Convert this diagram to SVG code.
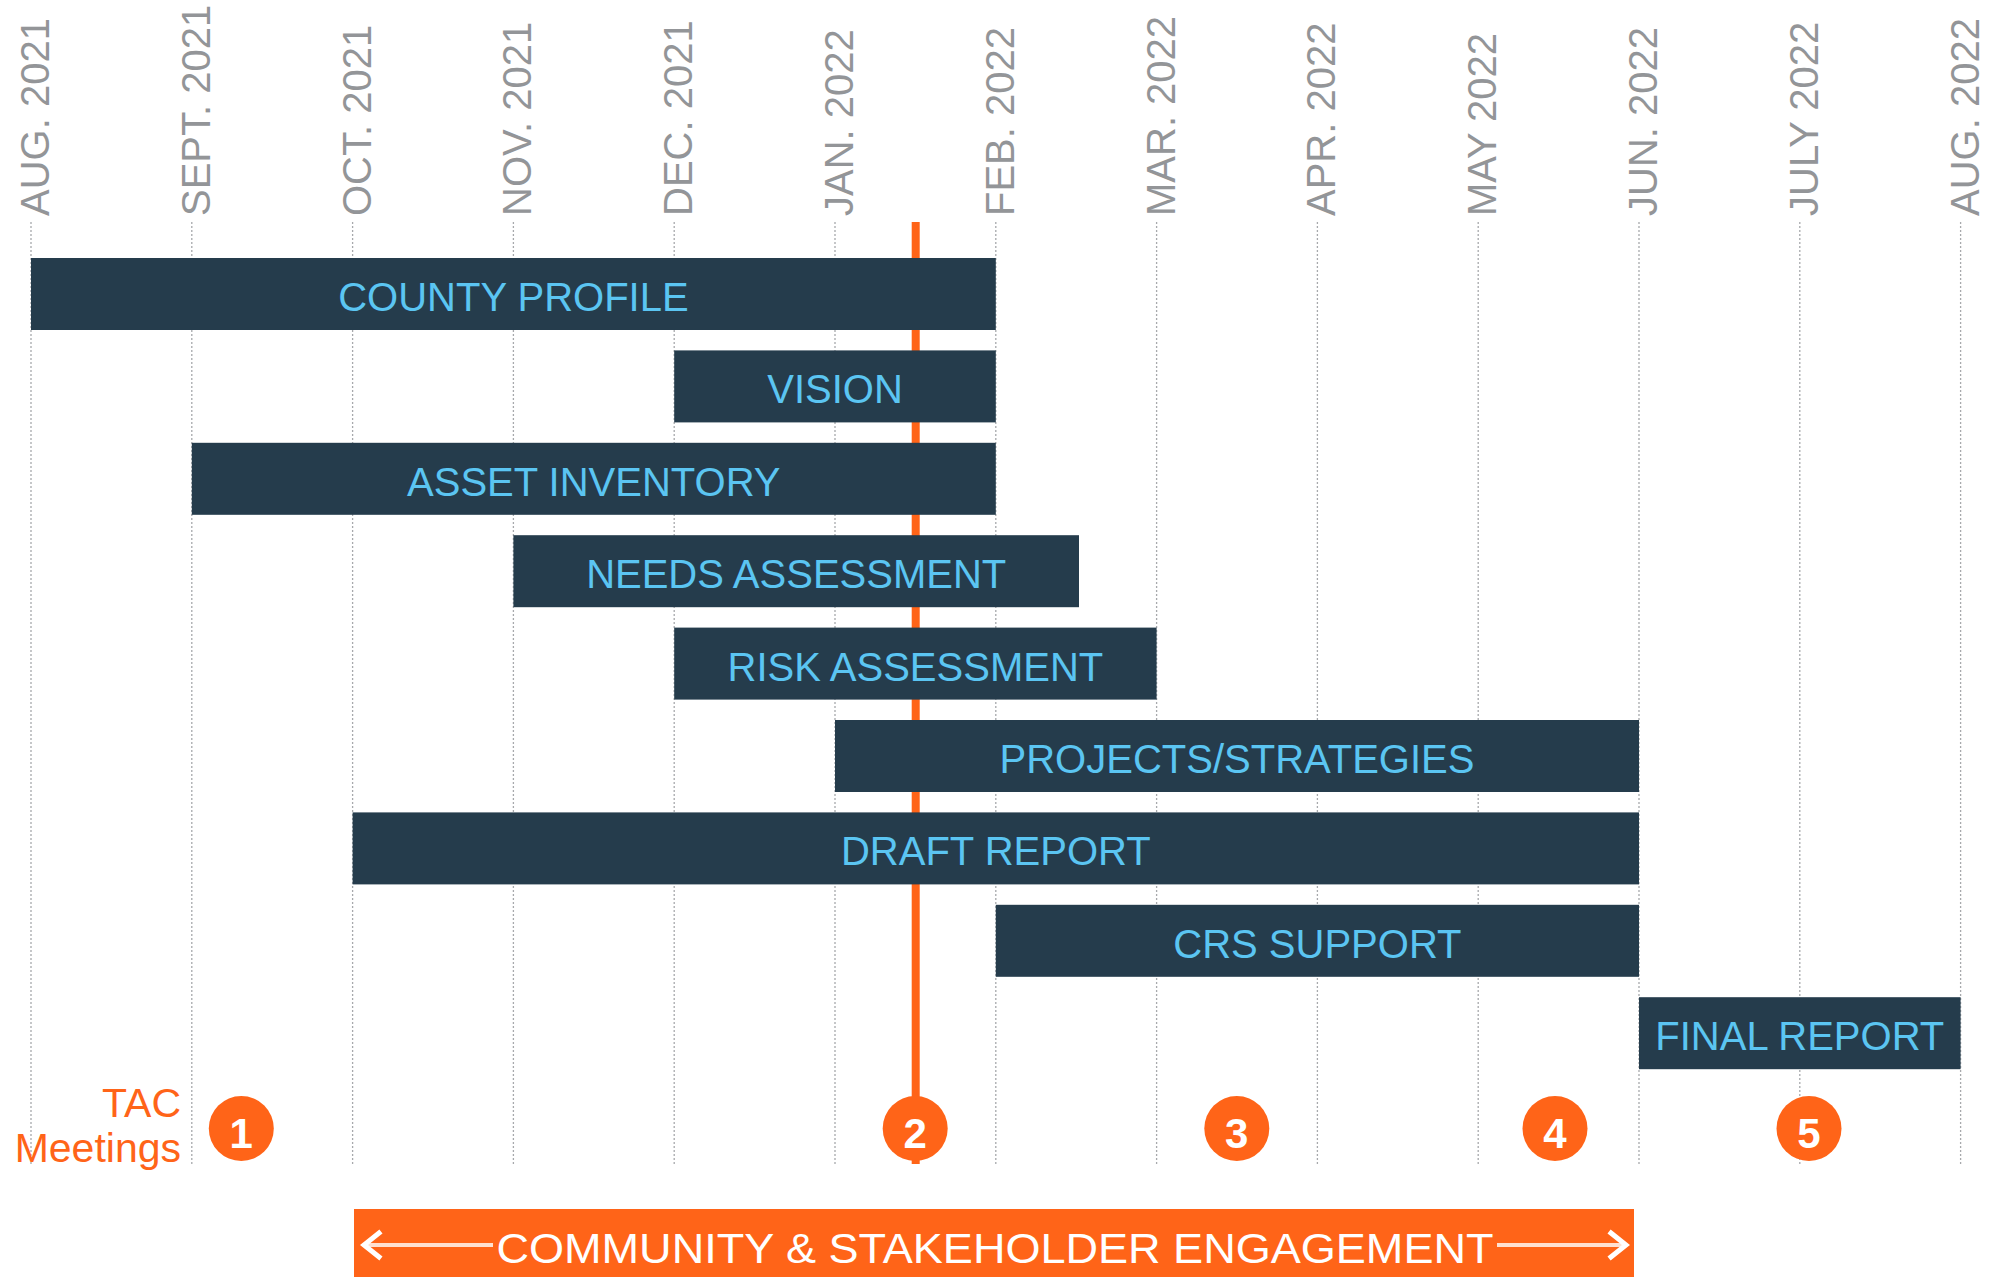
<svg xmlns="http://www.w3.org/2000/svg" width="1994" height="1277" viewBox="0 0 1994 1277">
<style>
.grid{stroke:#a7a9ac;stroke-width:1.3;stroke-dasharray:2 2;fill:none}
.mon{font-family:"Liberation Sans",Arial,sans-serif;font-size:40px;fill:#939598}
.bar{fill:#253c4c}
.lbl{font-family:"Liberation Sans",Arial,sans-serif;font-size:40px;fill:#5bc5f2;text-anchor:middle}
.tac{fill:#ff6418}
.num{font-family:"Liberation Sans",Arial,sans-serif;font-size:42px;font-weight:bold;fill:#ffffff;text-anchor:middle}
.otxt{font-family:"Liberation Sans",Arial,sans-serif;font-size:41px;fill:#ff6418;text-anchor:end}
.chev{fill:none;stroke:#ffffff;stroke-width:5;stroke-linecap:square}
.aline{stroke:#ffffff;stroke-opacity:0.8;stroke-width:4}
</style>
<rect width="1994" height="1277" fill="#ffffff"/>
<g id="axis">
<line class="grid" x1="31" y1="222" x2="31" y2="1164"/>
<line class="grid" x1="191.8" y1="222" x2="191.8" y2="1164"/>
<line class="grid" x1="352.6" y1="222" x2="352.6" y2="1164"/>
<line class="grid" x1="513.4" y1="222" x2="513.4" y2="1164"/>
<line class="grid" x1="674.2" y1="222" x2="674.2" y2="1164"/>
<line class="grid" x1="835" y1="222" x2="835" y2="1164"/>
<line class="grid" x1="995.8" y1="222" x2="995.8" y2="1164"/>
<line class="grid" x1="1156.6" y1="222" x2="1156.6" y2="1164"/>
<line class="grid" x1="1317.4" y1="222" x2="1317.4" y2="1164"/>
<line class="grid" x1="1478.2" y1="222" x2="1478.2" y2="1164"/>
<line class="grid" x1="1639" y1="222" x2="1639" y2="1164"/>
<line class="grid" x1="1799.8" y1="222" x2="1799.8" y2="1164"/>
<line class="grid" x1="1960.6" y1="222" x2="1960.6" y2="1164"/>
<text class="mon" transform="translate(49,216) rotate(-90)">AUG. 2021</text>
<text class="mon" transform="translate(209.8,216) rotate(-90)">SEPT. 2021</text>
<text class="mon" transform="translate(370.6,216) rotate(-90)">OCT. 2021</text>
<text class="mon" transform="translate(531.4,216) rotate(-90)">NOV. 2021</text>
<text class="mon" transform="translate(692.2,216) rotate(-90)">DEC. 2021</text>
<text class="mon" transform="translate(853,216) rotate(-90)">JAN. 2022</text>
<text class="mon" transform="translate(1013.8,216) rotate(-90)">FEB. 2022</text>
<text class="mon" transform="translate(1174.6,216) rotate(-90)">MAR. 2022</text>
<text class="mon" transform="translate(1335.4,216) rotate(-90)">APR. 2022</text>
<text class="mon" transform="translate(1496.2,216) rotate(-90)">MAY 2022</text>
<text class="mon" transform="translate(1657,216) rotate(-90)">JUN. 2022</text>
<text class="mon" transform="translate(1817.8,216) rotate(-90)">JULY 2022</text>
<text class="mon" transform="translate(1978.6,216) rotate(-90)">AUG. 2022</text>
</g>
<g id="today-line">
<line x1="915.7" y1="222" x2="915.7" y2="1164" stroke="#ff6418" stroke-width="8"/>
</g>
<g id="county-profile"><rect class="bar" x="31" y="258" width="964.8" height="72"/><text class="lbl" x="513.4" y="311">COUNTY PROFILE</text></g>
<g id="vision"><rect class="bar" x="674.2" y="350.4" width="321.6" height="72"/><text class="lbl" x="835" y="403.4">VISION</text></g>
<g id="asset-inventory"><rect class="bar" x="191.8" y="442.8" width="804" height="72"/><text class="lbl" x="593.8" y="495.8">ASSET INVENTORY</text></g>
<g id="needs-assessment"><rect class="bar" x="513.4" y="535.2" width="565.6" height="72"/><text class="lbl" x="796.2" y="588.2">NEEDS ASSESSMENT</text></g>
<g id="risk-assessment"><rect class="bar" x="674.2" y="627.6" width="482.4" height="72"/><text class="lbl" x="915.4" y="680.6">RISK ASSESSMENT</text></g>
<g id="projects-strategies"><rect class="bar" x="835" y="720" width="804" height="72"/><text class="lbl" x="1237" y="773">PROJECTS/STRATEGIES</text></g>
<g id="draft-report"><rect class="bar" x="352.6" y="812.4" width="1286.4" height="72"/><text class="lbl" x="995.8" y="865.4">DRAFT REPORT</text></g>
<g id="crs-support"><rect class="bar" x="995.8" y="904.8" width="643.2" height="72"/><text class="lbl" x="1317.4" y="957.8">CRS SUPPORT</text></g>
<g id="final-report"><rect class="bar" x="1639" y="997.2" width="321.6" height="72"/><text class="lbl" x="1799.8" y="1050.2">FINAL REPORT</text></g>
<g id="tac-label">
<text class="otxt" x="181" y="1116.5">TAC</text>
<text class="otxt" x="181" y="1162">Meetings</text>
</g>
<g id="tac-1"><circle class="tac" cx="241.3" cy="1128.5" r="32.5"/><text class="num" x="241.3" y="1148">1</text></g>
<g id="tac-2"><circle class="tac" cx="915.2" cy="1128.5" r="32.5"/><text class="num" x="915.2" y="1148">2</text></g>
<g id="tac-3"><circle class="tac" cx="1236.8" cy="1128.5" r="32.5"/><text class="num" x="1236.8" y="1148">3</text></g>
<g id="tac-4"><circle class="tac" cx="1555" cy="1128.5" r="32.5"/><text class="num" x="1555" y="1148">4</text></g>
<g id="tac-5"><circle class="tac" cx="1809" cy="1128.5" r="32.5"/><text class="num" x="1809" y="1148">5</text></g>
<g id="engagement">
<rect x="354" y="1209" width="1280" height="68" fill="#ff6418"/>
<text x="995" y="1263" font-family="'Liberation Sans',Arial,sans-serif" font-size="43" fill="#ffffff" text-anchor="middle" textLength="997" lengthAdjust="spacingAndGlyphs">COMMUNITY &amp; STAKEHOLDER ENGAGEMENT</text>
</g>
<g id="connectors">
<line class="aline" x1="368" y1="1245" x2="493" y2="1245"/>
<polyline class="chev" points="379,1233 364,1245 379,1257"/>
<line class="aline" x1="1497" y1="1245" x2="1622" y2="1245"/>
<polyline class="chev" points="1611,1233 1626,1245 1611,1257"/>
</g>
</svg>
